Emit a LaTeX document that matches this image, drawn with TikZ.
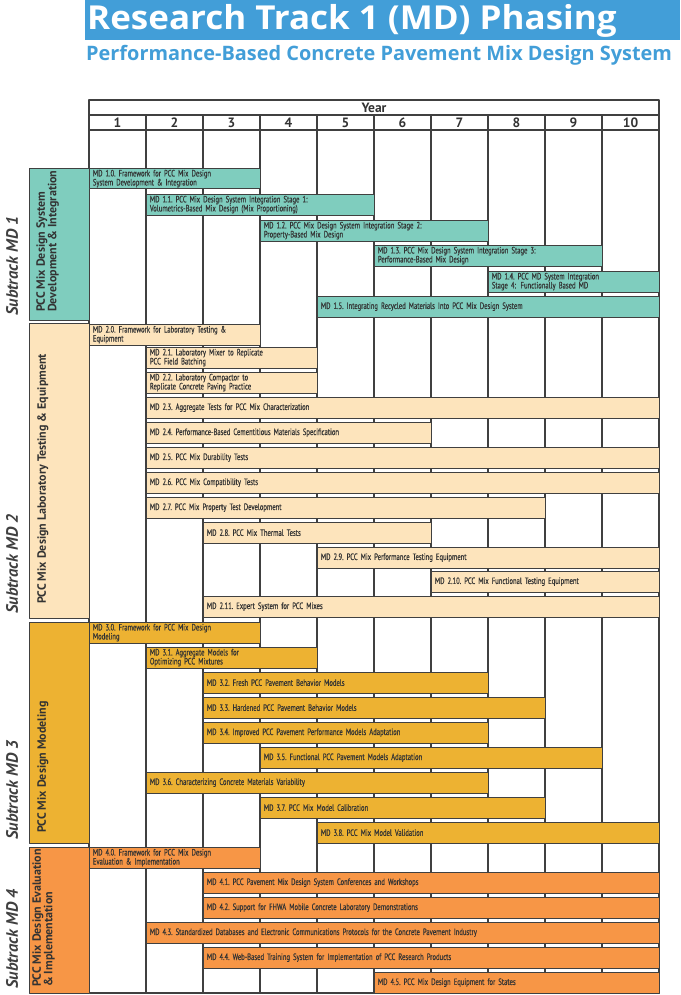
\documentclass[tikz,border=0pt]{standalone}
\usepackage{fontspec}
\setmainfont{PT Sans}
\newfontfamily\barfont[FakeStretch=0.72,FakeBold=0.35]{PT Sans}
\newfontfamily\headfont{Open Sans}
\newfontfamily\titlefont[FakeStretch=1.06]{Open Sans}
\definecolor{mdteal}{RGB}{127,205,190}
\definecolor{mdbeige}{RGB}{253,228,188}
\definecolor{mdgold}{RGB}{237,178,50}
\definecolor{mdorange}{RGB}{247,150,70}
\definecolor{mdblue}{RGB}{66,158,216}
\definecolor{mdline}{RGB}{64,64,64}
\definecolor{mdtext}{RGB}{51,51,51}
\tikzset{
  mdbar/.style={draw=mdline, line width=0.8pt, anchor=north west, inner xsep=3.5pt, inner ysep=0pt,
    minimum height=20.5pt, align=left, text=mdtext, font=\barfont\fontsize{9.2}{9}\selectfont},
  secbox/.style={draw=mdline, line width=1pt, anchor=north west, minimum width=60pt, inner sep=0pt},
  seclabel/.style={rotate=90, anchor=north west, align=left, inner sep=0pt, text=mdtext,
    font=\bfseries\fontsize{12}{11.5}\selectfont},
  subtrack/.style={rotate=90, anchor=west, inner sep=0pt, text=mdline,
    font=\bfseries\itshape\fontsize{16.5}{16.5}\selectfont},
  yearlab/.style={inner sep=0pt, text=mdtext, font=\bfseries\fontsize{13.5}{13.5}\selectfont}
}
\begin{document}
\begin{tikzpicture}[x=1pt,y=-1pt,line join=round]
\def\xo{89} \def\colw{57} % grid origin and column width
\useasboundingbox (0,0) rectangle (680,995);
% title
\fill[mdblue] (85,0) rectangle (680,40);
\node[anchor=base west, inner sep=0pt, text=white, font=\titlefont\bfseries\fontsize{33}{33}\selectfont] (title) at (87,30) {Research Track 1 (MD) Phasing};
\node[anchor=base west, inner sep=0pt, text=mdblue, font=\headfont\bfseries\fontsize{19.9}{19.9}\selectfont] (subtitle) at (86,61) {Performance-Based Concrete Pavement Mix Design System};
% grid
\draw[mdline, line width=1.6pt] (\xo,100) rectangle (659,993);
\draw[mdline, line width=1.6pt] (\xo,115) -- (659,115) (\xo,130) -- (659,130);
\foreach \i in {1,...,9}
  \draw[mdline, line width=1.6pt] ({\xo+\colw*\i},115) -- ({\xo+\colw*\i},993);
\node[yearlab] (year) at (374,107.5) {Year};
\foreach \i in {1,...,10}
  \node[yearlab] (yr\i) at ({\xo+\colw*\i-\colw/2},122.5) {\i};
% subtracks
\node[secbox, fill=mdteal, minimum height=152pt] (s1) at (29,168) {};
\node[secbox, fill=mdbeige, minimum height=295pt] (s2) at (29,323) {};
\node[secbox, fill=mdgold, minimum height=221pt] (s3) at (29,622) {};
\node[secbox, fill=mdorange, minimum height=146pt] (s4) at (29,847) {};
\node[seclabel] (s1lab) at (36,312) {PCC Mix Design System\\Development \& Integration};
\node[seclabel] (s2lab) at (37,604) {PCC Mix Design Laboratory Testing \& Equipment};
\node[seclabel] (s3lab) at (37,833) {PCC Mix Design Modeling};
\node[seclabel] (s4lab) at (32,987) {PCC Mix Design Evaluation\\\& Implementation};
\node[subtrack] (st1) at (12,316) {Subtrack MD 1};
\node[subtrack] (st2) at (12,614) {Subtrack MD 2};
\node[subtrack] (st3) at (12,840) {Subtrack MD 3};
\node[subtrack] (st4) at (12,989) {Subtrack MD 4};
% bars: id/first year/last year/top/text/colour
\foreach \id/\s/\e/\y/\t/\c in {
  10/1/3/168/{MD 1.0.\ Framework for PCC Mix Design\\System Development \& Integration}/mdteal,
  11/2/5/194/{MD 1.1.\ PCC Mix Design System Integration Stage 1:\\Volumetrics-Based Mix Design (Mix Proportioning)}/mdteal,
  12/4/7/220/{MD 1.2.\ PCC Mix Design System Integration Stage 2:\\Property-Based Mix Design}/mdteal,
  13/6/9/245/{MD 1.3.\ PCC Mix Design System Integration Stage 3:\\Performance-Based Mix Design}/mdteal,
  14/8/10/271/{MD 1.4.\ PCC MD System Integration\\Stage 4: Functionally Based MD}/mdteal,
  15/5/10/296/{MD 1.5.\ Integrating Recycled Materials Into PCC Mix Design System}/mdteal,
  20/1/3/324/{MD 2.0.\ Framework for Laboratory Testing \&\\Equipment}/mdbeige,
  21/2/4/347/{MD 2.1.\ Laboratory Mixer to Replicate\\PCC Field Batching}/mdbeige,
  22/2/4/372/{MD 2.2.\ Laboratory Compactor to\\Replicate Concrete Paving Practice}/mdbeige,
  23/2/10/397/{MD 2.3.\ Aggregate Tests for PCC Mix Characterization}/mdbeige,
  24/2/6/422/{MD 2.4.\ Performance-Based Cementitious Materials Specification}/mdbeige,
  25/2/10/447/{MD 2.5.\ PCC Mix Durability Tests}/mdbeige,
  26/2/10/472/{MD 2.6.\ PCC Mix Compatibility Tests}/mdbeige,
  27/2/8/497/{MD 2.7.\ PCC Mix Property Test Development}/mdbeige,
  28/3/6/522/{MD 2.8.\ PCC Mix Thermal Tests}/mdbeige,
  29/5/10/547/{MD 2.9.\ PCC Mix Performance Testing Equipment}/mdbeige,
  210/7/10/571/{MD 2.10.\ PCC Mix Functional Testing Equipment}/mdbeige,
  211/3/10/596/{MD 2.11.\ Expert System for PCC Mixes}/mdbeige,
  30/1/3/622/{MD 3.0.\ Framework for PCC Mix Design\\Modeling}/mdgold,
  31/2/4/647/{MD 3.1.\ Aggregate Models for\\Optimizing PCC Mixtures}/mdgold,
  32/3/7/672/{MD 3.2.\ Fresh PCC Pavement Behavior Models}/mdgold,
  33/3/8/697/{MD 3.3.\ Hardened PCC Pavement Behavior Models}/mdgold,
  34/3/7/722/{MD 3.4.\ Improved PCC Pavement Performance Models Adaptation}/mdgold,
  35/4/9/747/{MD 3.5.\ Functional PCC Pavement Models Adaptation}/mdgold,
  36/2/7/772/{MD 3.6.\ Characterizing Concrete Materials Variability}/mdgold,
  37/4/8/797/{MD 3.7.\ PCC Mix Model Calibration}/mdgold,
  38/5/10/822/{MD 3.8.\ PCC Mix Model Validation}/mdgold,
  40/1/3/847/{MD 4.0.\ Framework for PCC Mix Design\\Evaluation \& Implementation}/mdorange,
  41/3/10/872/{MD 4.1.\ PCC Pavement Mix Design System Conferences and Workshops}/mdorange,
  42/3/10/897/{MD 4.2.\ Support for FHWA Mobile Concrete Laboratory Demonstrations}/mdorange,
  43/2/10/922/{MD 4.3.\ Standardized Databases and Electronic Communications Protocols for the Concrete Pavement Industry}/mdorange,
  44/3/10/947/{MD 4.4.\ Web-Based Training System for Implementation of PCC Research Products}/mdorange,
  45/6/10/972/{MD 4.5.\ PCC Mix Design Equipment for States}/mdorange}{
  \pgfmathsetmacro\xl{\xo+\colw*(\s-1)}
  \pgfmathsetmacro\w{\colw*(\e-\s+1)}
  \pgfmathsetmacro\tw{\w-7}
  \node[mdbar, fill=\c, minimum width=\w pt, text width=\tw pt] (md\id) at (\xl,\y) {\t};
}
\end{tikzpicture}
\end{document}
